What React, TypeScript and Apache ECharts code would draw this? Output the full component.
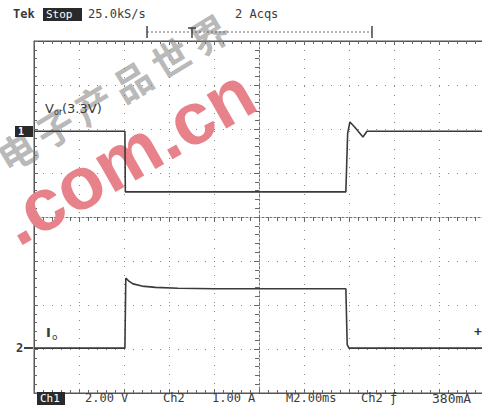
import React, { useEffect, useRef } from "react";
import * as echarts from "echarts";

// Time in divisions from screen centre (2.00 ms/div), level in divisions from centre
const vTime = [-5, -2.98, -2.97, 1.93, 1.97, 2.02, 2.12, 2.31, 2.4, 5];
const vLevel = [1.95, 1.95, 0.57, 0.57, 1.9, 2.16, 2.05, 1.82, 1.95, 1.95];
const iTime = [-5, -2.98, -2.96, -2.9, -2.8, -2.6, -2.3, -1.8, -1.0, 1.93, 1.96, 2.0, 5];
const iLevel = [-2.98, -2.98, -1.39, -1.45, -1.52, -1.57, -1.6, -1.62, -1.63, -1.63, -2.9, -2.98, -2.98];

const topTexts = ["Tek", "Stop", "25.0kS/s", "2 Acqs"];
const bottomTexts = ["Ch1", "2.00 V", "Ch2", "1.00 A", "M2.00ms", "Ch2 \u0192", "380mA"];
const watermarkRed = ".com.cn";
const watermarkGrey = "电子产品世界";

const MONO = '"DejaVu Sans Mono", monospace';
const TXT = "#3a3a3a";

// advance widths (em) of Liberation Sans Bold glyphs in ".com.cn"
const RED_ADV: Record<string, number> = { ".": 0.278, c: 0.556, o: 0.611, m: 0.889, n: 0.611 };

export default function App() {
  const ref = useRef<HTMLDivElement>(null);
  useEffect(() => {
    if (!ref.current) return;
    const chart = echarts.init(ref.current, null, { renderer: "svg" });
    const tickStyle = { color: "#666", width: 1 };
    const hidden = { show: false };
    const txt = (x: number, y: number, text: string, extra: any = {}) => ({
      type: "text",
      x,
      y,
      z: 20,
      style: {
        text,
        fill: TXT,
        fontSize: 12,
        fontFamily: MONO,
        textVerticalAlign: "middle",
        ...extra,
      },
    });
    const box = (x: number, y: number, w: number, h: number) => ({
      type: "rect",
      z: 19,
      shape: { x, y, width: w, height: h },
      style: { fill: "#2a2a2a" },
    });
    const ln = (x1: number, y1: number, x2: number, y2: number, extra: any = {}) => ({
      type: "line",
      z: 20,
      shape: { x1, y1, x2, y2 },
      style: { stroke: "#444", lineWidth: 1.2, ...extra },
    });

    // red watermark, glyph by glyph along a rotated baseline
    const redSize = 74;
    const redRot = 0.52;
    const redChars = watermarkRed.split("");
    const redW = redChars.reduce((s, c) => s + RED_ADV[c], 0) * redSize;
    const rdx = Math.cos(redRot);
    const rdy = -Math.sin(redRot);
    const rsx = 127 - rdx * (redW / 2);
    const rsy = 156 - rdy * (redW / 2);
    let acc = 0;
    const redEls = redChars.map((c) => {
      const mid = acc + (RED_ADV[c] * redSize) / 2;
      acc += RED_ADV[c] * redSize;
      return {
        type: "text",
        x: rsx + rdx * mid,
        y: rsy + rdy * mid,
        rotation: redRot,
        z: 1,
        style: {
          text: c,
          fill: "#e8828a",
          fontSize: redSize,
          lineHeight: 40,
          fontWeight: "bold",
          fontFamily: '"Liberation Sans", Arial, sans-serif',
          textAlign: "center",
          textVerticalAlign: "middle",
        },
      };
    });

    // grey Chinese watermark
    const greyRot = 0.545;
    const greyStep = 45;
    const greyEls = watermarkGrey.split("").map((c, i) => ({
      type: "text",
      x: 16 + Math.cos(greyRot) * greyStep * i,
      y: 150 - Math.sin(greyRot) * greyStep * i,
      rotation: greyRot,
      z: 1,
      style: {
        text: c,
        fill: "rgba(125,125,125,0.55)",
        fontSize: 38,
        lineHeight: 38,
        fontWeight: "bold",
        fontFamily: '"Noto Sans CJK SC"',
        textAlign: "center",
        textVerticalAlign: "middle",
      },
    }));

    const option: any = {
      animation: false,
      backgroundColor: "#ffffff",
      grid: {
        left: 34,
        top: 41,
        width: 450,
        height: 352,
        show: true,
        borderColor: "#555",
        borderWidth: 1,
        backgroundColor: "transparent",
        containLabel: false,
        outerBoundsMode: "none",
      },
      xAxis: [
        {
          type: "value",
          min: -5,
          max: 5,
          interval: 1,
          position: "bottom",
          axisLine: { show: true, onZero: true, lineStyle: { color: "#777", type: [2, 2] } },
          axisTick: { show: true, length: 5, lineStyle: tickStyle },
          minorTick: { show: true, splitNumber: 5, length: 4, lineStyle: tickStyle },
          axisLabel: hidden,
          splitLine: { show: true, lineStyle: { color: "#888", width: 1, type: [1, 8] } },
        },
        {
          type: "value",
          min: -5,
          max: 5,
          interval: 1,
          position: "top",
          axisLine: { show: true, onZero: false, lineStyle: { color: "#555" } },
          axisTick: { show: true, inside: true, length: 4, lineStyle: tickStyle },
          minorTick: { show: true, splitNumber: 5, length: 3, lineStyle: tickStyle },
          axisLabel: hidden,
          splitLine: hidden,
        },
        {
          type: "value",
          min: -5,
          max: 5,
          interval: 1,
          position: "bottom",
          axisLine: { show: true, onZero: false, lineStyle: { color: "#555" } },
          axisTick: { show: true, inside: true, length: 4, lineStyle: tickStyle },
          minorTick: { show: true, splitNumber: 5, length: 3, lineStyle: tickStyle },
          axisLabel: hidden,
          splitLine: hidden,
        },
      ],
      yAxis: [
        {
          type: "value",
          min: -4,
          max: 4,
          interval: 1,
          position: "left",
          axisLine: { show: true, onZero: true, lineStyle: { color: "#777", type: [2, 2] } },
          axisTick: { show: true, length: 5, lineStyle: tickStyle },
          minorTick: { show: true, splitNumber: 5, length: 4, lineStyle: tickStyle },
          axisLabel: hidden,
          splitLine: { show: true, lineStyle: { color: "#888", width: 1, type: [1, 8] } },
        },
        {
          type: "value",
          min: -4,
          max: 4,
          interval: 1,
          position: "left",
          axisLine: { show: true, onZero: false, lineStyle: { color: "#555" } },
          axisTick: { show: true, inside: true, length: 4, lineStyle: tickStyle },
          minorTick: { show: true, splitNumber: 5, length: 3, lineStyle: tickStyle },
          axisLabel: hidden,
          splitLine: hidden,
        },
      ],
      series: [
        {
          type: "line",
          name: "Vo",
          xAxisIndex: 0,
          yAxisIndex: 0,
          data: vTime.map((t, i) => [t, vLevel[i]]),
          symbol: "none",
          lineStyle: { color: "#3a3a3a", width: 1.6 },
          z: 5,
        },
        {
          type: "line",
          name: "Io",
          xAxisIndex: 0,
          yAxisIndex: 0,
          data: iTime.map((t, i) => [t, iLevel[i]]),
          symbol: "none",
          lineStyle: { color: "#3a3a3a", width: 1.6 },
          z: 5,
        },
      ],
      graphic: [
        ...greyEls,
        ...redEls,
        // top status line
        txt(13, 14, topTexts[0], { fontWeight: "bold" }),
        box(43, 8, 39, 13),
        txt(46, 14.5, topTexts[1], { fill: "#fff", fontSize: 11 }),
        txt(88, 14, topTexts[2]),
        txt(235, 14, topTexts[3]),
        // trigger position bar
        ln(147, 32, 372, 32, { lineDash: [2, 2], lineWidth: 1, stroke: "#666" }),
        ln(147, 26, 147, 38, { lineWidth: 1.5 }),
        ln(372, 26, 372, 38, { lineWidth: 1.5 }),
        ln(192, 28, 192, 38, { lineWidth: 1.5 }),
        ln(188, 28, 196, 28, { lineWidth: 1.5 }),
        // channel labels
        txt(45, 108, "V", { fontSize: 13, fontFamily: '"DejaVu Sans", sans-serif' }),
        txt(54, 112, "or", { fontSize: 8, fontFamily: '"DejaVu Sans", sans-serif' }),
        txt(62, 108, "(3.3V)", { fontSize: 13, fontFamily: '"DejaVu Sans", sans-serif' }),
        txt(46, 332, "I", { fontSize: 13, fontWeight: "bold", fontFamily: '"DejaVu Sans", sans-serif' }),
        txt(52, 337, "o", { fontSize: 9, fontFamily: '"DejaVu Sans", sans-serif' }),
        // channel ground markers
        box(15, 126, 18, 11),
        txt(18, 131.5, "1", { fill: "#fff", fontSize: 10, fontWeight: "bold" }),
        txt(16, 348, "2", { fontWeight: "bold" }),
        ln(24, 348, 33, 348, { lineWidth: 2 }),
        txt(478, 331, "+", { fontWeight: "bold", fontSize: 13, textAlign: "center" }),
        // bottom status line
        box(37, 392, 28, 13),
        txt(40, 398.5, bottomTexts[0], { fill: "#fff", fontSize: 11 }),
        txt(85, 398, bottomTexts[1]),
        txt(163, 398, bottomTexts[2]),
        txt(212, 398, bottomTexts[3]),
        txt(286, 398, bottomTexts[4]),
        txt(361, 398, bottomTexts[5]),
        txt(432, 398, bottomTexts[6], { fontSize: 13 }),
      ],
    };
    chart.setOption(option);
    return () => chart.dispose();
  }, []);
  return (
    <div
      ref={ref}
      style={{ position: "absolute", left: 0, top: 0, width: 482, height: 405 }}
    />
  );
}
